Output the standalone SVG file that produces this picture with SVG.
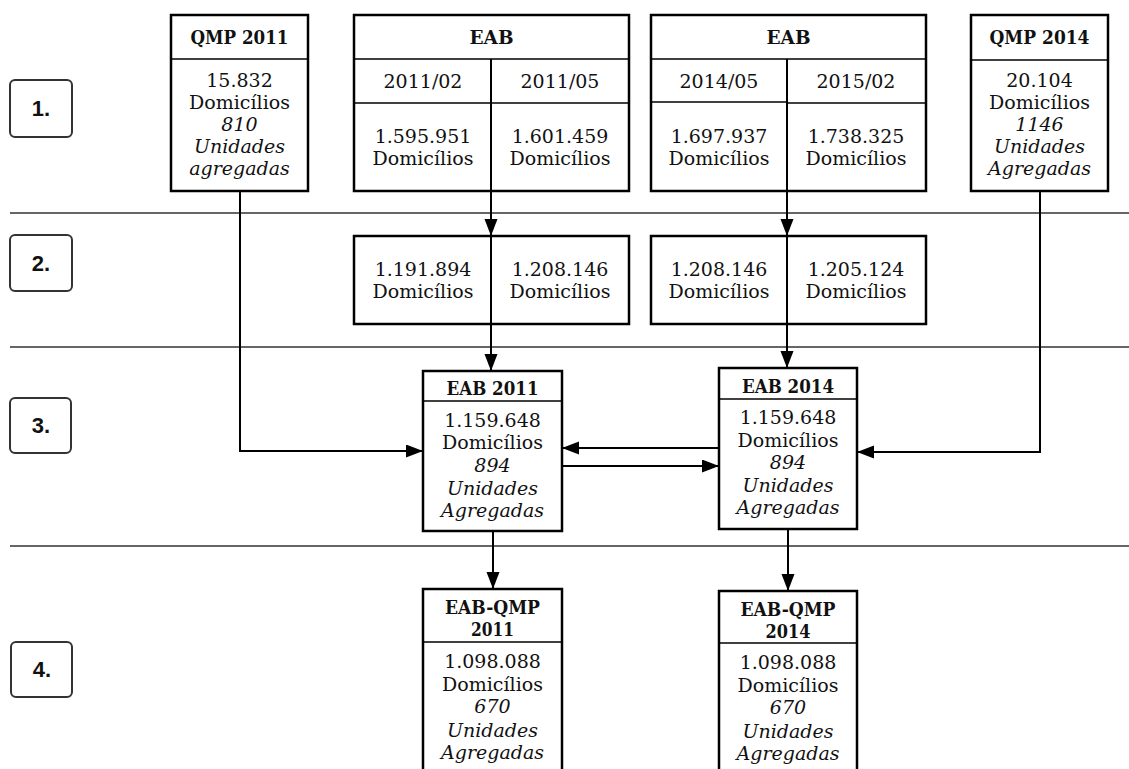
<svg xmlns="http://www.w3.org/2000/svg" width="1129" height="769" viewBox="0 0 1129 769">
<style>
.box{fill:#fff;stroke:#000;stroke-width:2.5}
.div{stroke:#000;stroke-width:1.5;fill:none}
.sep{stroke:#666;stroke-width:2}
.step{fill:#fff;stroke:#333;stroke-width:2}
.stept{font-family:"Liberation Sans",Arial,sans-serif;font-weight:bold;font-size:22px;fill:#111;text-anchor:middle}
.t{font-family:"DejaVu Serif","Liberation Serif",serif;font-size:19px;fill:#111;text-anchor:middle}
.b{font-weight:bold;font-size:19px}
.i{font-style:italic}
.c{fill:none;stroke:#000;stroke-width:2}
</style>
<defs>
<marker id="ah" markerUnits="userSpaceOnUse" markerWidth="18" markerHeight="14" refX="17" refY="6.5" orient="auto">
<path d="M0,0 L17,6.5 L0,13 z" fill="#000"/>
</marker>
</defs>
<g id="separators">
<line class="sep" x1="10" y1="213" x2="1129" y2="213"/>
<line class="sep" x1="10" y1="347" x2="1129" y2="347"/>
<line class="sep" x1="10" y1="546" x2="1129" y2="546"/>
</g>
<g id="step1"><rect class="step" x="10" y="80" width="62" height="57" rx="5"/><text class="stept" x="41" y="116">1.</text></g>
<g id="step2"><rect class="step" x="10" y="235" width="62" height="56" rx="5"/><text class="stept" x="41" y="271">2.</text></g>
<g id="step3"><rect class="step" x="10" y="398" width="61" height="55" rx="5"/><text class="stept" x="41" y="433">3.</text></g>
<g id="step4"><rect class="step" x="11" y="642" width="61" height="55" rx="5"/><text class="stept" x="42" y="677">4.</text></g>

<g id="connectors">
<path class="c" d="M491,192 V236" marker-end="url(#ah)"/>
<path class="c" d="M491,324 V371" marker-end="url(#ah)"/>
<path class="c" d="M787,192 V236" marker-end="url(#ah)"/>
<path class="c" d="M787,324 V368" marker-end="url(#ah)"/>
<path class="c" d="M240,191 V451 H423" marker-end="url(#ah)"/>
<path class="c" d="M1040,191 V452 H857" marker-end="url(#ah)"/>
<path class="c" d="M719,448 H562" marker-end="url(#ah)"/>
<path class="c" d="M562,466 H719" marker-end="url(#ah)"/>
<path class="c" d="M493,531 V589" marker-end="url(#ah)"/>
<path class="c" d="M788,529 V591" marker-end="url(#ah)"/>
</g>

<g id="qmp2011">
<rect class="box" x="171" y="15" width="137" height="176"/>
<line class="div" x1="171" y1="59" x2="308" y2="59"/>
<text class="t b" x="239.5" y="44" textLength="98" lengthAdjust="spacingAndGlyphs">QMP 2011</text>
<text class="t" x="239.5" y="87">15.832</text>
<text class="t" x="239.5" y="109">Domicílios</text>
<text class="t i" x="239.5" y="131">810</text>
<text class="t i" x="239.5" y="153">Unidades</text>
<text class="t i" x="239.5" y="175">agregadas</text>
</g>

<g id="eab2011src">
<rect class="box" x="354" y="15" width="275" height="176"/>
<line class="div" x1="354" y1="59" x2="629" y2="59"/>
<line class="div" x1="354" y1="103" x2="629" y2="103"/>
<line class="c" x1="491" y1="59" x2="491" y2="191"/>
<text class="t b" x="491.5" y="44" textLength="44" lengthAdjust="spacingAndGlyphs">EAB</text>
<text class="t" x="423" y="88">2011/02</text>
<text class="t" x="560" y="88">2011/05</text>
<text class="t" x="423" y="143">1.595.951</text>
<text class="t" x="423" y="165">Domicílios</text>
<text class="t" x="560" y="143">1.601.459</text>
<text class="t" x="560" y="165">Domicílios</text>
</g>

<g id="eab2014src">
<rect class="box" x="651" y="15" width="275" height="176"/>
<line class="div" x1="651" y1="59" x2="926" y2="59"/>
<line class="div" x1="651" y1="102" x2="787" y2="102"/>
<line class="div" x1="787" y1="103" x2="926" y2="103"/>
<line class="c" x1="787" y1="59" x2="787" y2="191"/>
<text class="t b" x="788.5" y="44" textLength="44" lengthAdjust="spacingAndGlyphs">EAB</text>
<text class="t" x="719" y="88">2014/05</text>
<text class="t" x="856" y="88">2015/02</text>
<text class="t" x="719" y="143">1.697.937</text>
<text class="t" x="719" y="165">Domicílios</text>
<text class="t" x="856" y="143">1.738.325</text>
<text class="t" x="856" y="165">Domicílios</text>
</g>

<g id="qmp2014">
<rect class="box" x="971" y="15" width="137" height="176"/>
<line class="div" x1="971" y1="60" x2="1108" y2="60"/>
<text class="t b" x="1039.5" y="44" textLength="100" lengthAdjust="spacingAndGlyphs">QMP 2014</text>
<text class="t" x="1039.5" y="87">20.104</text>
<text class="t" x="1039.5" y="109">Domicílios</text>
<text class="t i" x="1039.5" y="131">1146</text>
<text class="t i" x="1039.5" y="153">Unidades</text>
<text class="t i" x="1039.5" y="175">Agregadas</text>
</g>

<g id="filt2011">
<rect class="box" x="354" y="236" width="275" height="88"/>
<line class="c" x1="491" y1="236" x2="491" y2="324"/>
<text class="t" x="423" y="276">1.191.894</text>
<text class="t" x="423" y="298">Domicílios</text>
<text class="t" x="560" y="276">1.208.146</text>
<text class="t" x="560" y="298">Domicílios</text>
</g>

<g id="filt2014">
<rect class="box" x="651" y="236" width="275" height="88"/>
<line class="c" x1="787" y1="236" x2="787" y2="324"/>
<text class="t" x="719" y="276">1.208.146</text>
<text class="t" x="719" y="298">Domicílios</text>
<text class="t" x="856" y="276">1.205.124</text>
<text class="t" x="856" y="298">Domicílios</text>
</g>

<g id="eab2011">
<rect class="box" x="423" y="371" width="139" height="160"/>
<line class="div" x1="423" y1="401" x2="562" y2="401"/>
<text class="t b" x="492.5" y="395" textLength="92" lengthAdjust="spacingAndGlyphs">EAB 2011</text>
<text class="t" x="492.5" y="427">1.159.648</text>
<text class="t" x="492.5" y="449">Domicílios</text>
<text class="t i" x="492.5" y="472">894</text>
<text class="t i" x="492.5" y="495">Unidades</text>
<text class="t i" x="492.5" y="517">Agregadas</text>
</g>

<g id="eab2014">
<rect class="box" x="719" y="368" width="138" height="161"/>
<line class="div" x1="719" y1="399" x2="857" y2="399"/>
<text class="t b" x="788" y="393" textLength="92" lengthAdjust="spacingAndGlyphs">EAB 2014</text>
<text class="t" x="788" y="424">1.159.648</text>
<text class="t" x="788" y="447">Domicílios</text>
<text class="t i" x="788" y="469">894</text>
<text class="t i" x="788" y="492">Unidades</text>
<text class="t i" x="788" y="514">Agregadas</text>
</g>

<g id="eabqmp2011">
<rect class="box" x="423" y="589" width="139" height="200"/>
<line class="div" x1="423" y1="642" x2="562" y2="642"/>
<text class="t b" x="492.5" y="614" textLength="95" lengthAdjust="spacingAndGlyphs">EAB-QMP</text>
<text class="t b" x="492.5" y="636" textLength="43" lengthAdjust="spacingAndGlyphs">2011</text>
<text class="t" x="492.5" y="668">1.098.088</text>
<text class="t" x="492.5" y="691">Domicílios</text>
<text class="t i" x="492.5" y="713">670</text>
<text class="t i" x="492.5" y="737">Unidades</text>
<text class="t i" x="492.5" y="759">Agregadas</text>
</g>

<g id="eabqmp2014">
<rect class="box" x="719" y="591" width="138" height="200"/>
<line class="div" x1="719" y1="643" x2="857" y2="643"/>
<text class="t b" x="788" y="616" textLength="95" lengthAdjust="spacingAndGlyphs">EAB-QMP</text>
<text class="t b" x="788" y="638" textLength="45" lengthAdjust="spacingAndGlyphs">2014</text>
<text class="t" x="788" y="669">1.098.088</text>
<text class="t" x="788" y="692">Domicílios</text>
<text class="t i" x="788" y="714">670</text>
<text class="t i" x="788" y="738">Unidades</text>
<text class="t i" x="788" y="760">Agregadas</text>
</g>
</svg>
